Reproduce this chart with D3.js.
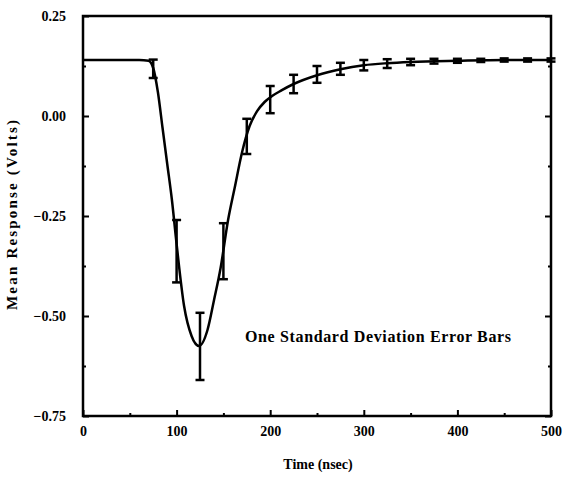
<!DOCTYPE html>
<html>
<head>
<meta charset="utf-8">
<script src="https://cdn.jsdelivr.net/npm/d3@7"></script>
<style>
  body { margin: 0; background: #fff; }
  text { font-family: "Liberation Serif", "DejaVu Serif", serif; font-weight: bold; fill: #000; }
</style>
</head>
<body>
<div id="chart"></div>
<script>
// fitted response curve (time nsec, volts)
var curveTime = [0, 60, 70, 75, 80, 85, 90, 95, 100, 108, 116, 124, 133, 140, 147, 155, 162, 170, 178, 186, 194, 202, 212, 225, 250, 275, 300, 325, 350, 400, 450, 500];
var curveVolts = [0.14, 0.14, 0.138, 0.12, 0.06, -0.03, -0.12, -0.21, -0.32, -0.475, -0.55, -0.575, -0.535, -0.46, -0.38, -0.26, -0.18, -0.09, -0.025, 0.012, 0.035, 0.05, 0.064, 0.08, 0.102, 0.117, 0.127, 0.132, 0.135, 0.138, 0.14, 0.14];

// measured means with one standard deviation
var barTime = [75, 100, 125, 150, 175, 200, 225, 250, 275, 300, 325, 350, 375, 400, 425, 450, 475, 500];
var barMean = [0.118, -0.338, -0.576, -0.338, -0.051, 0.041, 0.08, 0.104, 0.118, 0.127, 0.131, 0.135, 0.137, 0.138, 0.139, 0.14, 0.14, 0.14];
var barSd = [0.023, 0.078, 0.084, 0.07, 0.044, 0.034, 0.023, 0.021, 0.015, 0.013, 0.011, 0.008, 0.006, 0.005, 0.004, 0.004, 0.004, 0.004];

var xTicks = [0, 100, 200, 300, 400, 500];
var xMinor = [50, 150, 250, 350, 450];
var yTicks = [0.25, 0, -0.25, -0.5, -0.75];
var yMinor = [0.125, -0.125, -0.375, -0.625];

var width = 565, height = 479;
var plotLeft = 83, plotRight = 551, plotTop = 16, plotBottom = 416;

var svg = d3.select("#chart").append("svg")
  .attr("width", width)
  .attr("height", height);

var x = d3.scaleLinear().domain([0, 500]).range([plotLeft, plotRight]);
var y = d3.scaleLinear().domain([-0.75, 0.25]).range([plotBottom, plotTop]);

function noDomain(g) { g.select(".domain").remove(); }

// axes, ticks pointing inward
svg.append("g")
  .attr("transform", "translate(0," + plotBottom + ")")
  .call(d3.axisBottom(x).tickValues(xTicks).tickSize(-6).tickPadding(10).tickFormat(d3.format("d")))
  .call(noDomain);
svg.append("g")
  .attr("transform", "translate(0," + plotBottom + ")")
  .call(d3.axisBottom(x).tickValues(xMinor).tickSize(-3).tickFormat(""))
  .call(noDomain);

svg.append("g")
  .attr("transform", "translate(" + plotLeft + ",0)")
  .call(d3.axisLeft(y).tickValues(yTicks).tickSize(-6).tickPadding(17).tickFormat(d3.format(".2f")))
  .call(noDomain);
svg.append("g")
  .attr("transform", "translate(" + plotLeft + ",0)")
  .call(d3.axisLeft(y).tickValues(yMinor).tickSize(-3).tickFormat(""))
  .call(noDomain);

svg.append("g")
  .attr("transform", "translate(" + plotRight + ",0)")
  .call(d3.axisRight(y).tickValues(yTicks).tickSize(-6).tickFormat(""))
  .call(noDomain);
svg.append("g")
  .attr("transform", "translate(" + plotRight + ",0)")
  .call(d3.axisRight(y).tickValues(yMinor).tickSize(-3).tickFormat(""))
  .call(noDomain);

svg.selectAll(".tick line").attr("stroke", "#000").attr("stroke-width", 2);
svg.selectAll(".tick text").style("font-size", "14px").style("font-family", "'Liberation Serif', serif").style("font-weight", "bold");

// frame
svg.append("rect")
  .attr("x", plotLeft).attr("y", plotTop)
  .attr("width", plotRight - plotLeft).attr("height", plotBottom - plotTop)
  .attr("fill", "none").attr("stroke", "#000").attr("stroke-width", 2.5);

// curve
var pts = curveTime.map(function(t, i) { return [t, curveVolts[i]]; });
var line = d3.line()
  .x(function(d) { return x(d[0]); })
  .y(function(d) { return y(d[1]); })
  .curve(d3.curveMonotoneX);

svg.append("path")
  .datum(pts)
  .attr("d", line)
  .attr("fill", "none")
  .attr("stroke", "#000")
  .attr("stroke-width", 2.5);

// error bars
var bars = barTime.map(function(t, i) { return { t: t, m: barMean[i], s: barSd[i] }; });
var eb = svg.selectAll(".eb").data(bars).enter().append("g").attr("class", "eb");
eb.append("line")
  .attr("x1", function(d) { return x(d.t); }).attr("x2", function(d) { return x(d.t); })
  .attr("y1", function(d) { return y(d.m + d.s); }).attr("y2", function(d) { return y(d.m - d.s); })
  .attr("stroke", "#000").attr("stroke-width", 2.5);
eb.selectAll(".cap").data(function(d) { return [[d.t, d.m + d.s], [d.t, d.m - d.s]]; })
  .enter().append("line")
  .attr("x1", function(d) { return x(d[0]) - 4.5; }).attr("x2", function(d) { return x(d[0]) + 4.5; })
  .attr("y1", function(d) { return y(d[1]); }).attr("y2", function(d) { return y(d[1]); })
  .attr("stroke", "#000").attr("stroke-width", 2.5);

// labels
svg.append("text")
  .attr("x", 318).attr("y", 469)
  .attr("text-anchor", "middle")
  .style("font-size", "14px")
  .text("Time (nsec)");

svg.append("text")
  .attr("transform", "translate(17,215) rotate(-90)")
  .attr("text-anchor", "middle")
  .attr("textLength", 190)
  .attr("lengthAdjust", "spacing")
  .style("font-size", "15px")
  .text("Mean Response (Volts)");

svg.append("text")
  .attr("x", 245).attr("y", 342)
  .attr("textLength", 266)
  .attr("lengthAdjust", "spacing")
  .style("font-size", "16px")
  .text("One Standard Deviation Error Bars");
</script>
</body>
</html>
